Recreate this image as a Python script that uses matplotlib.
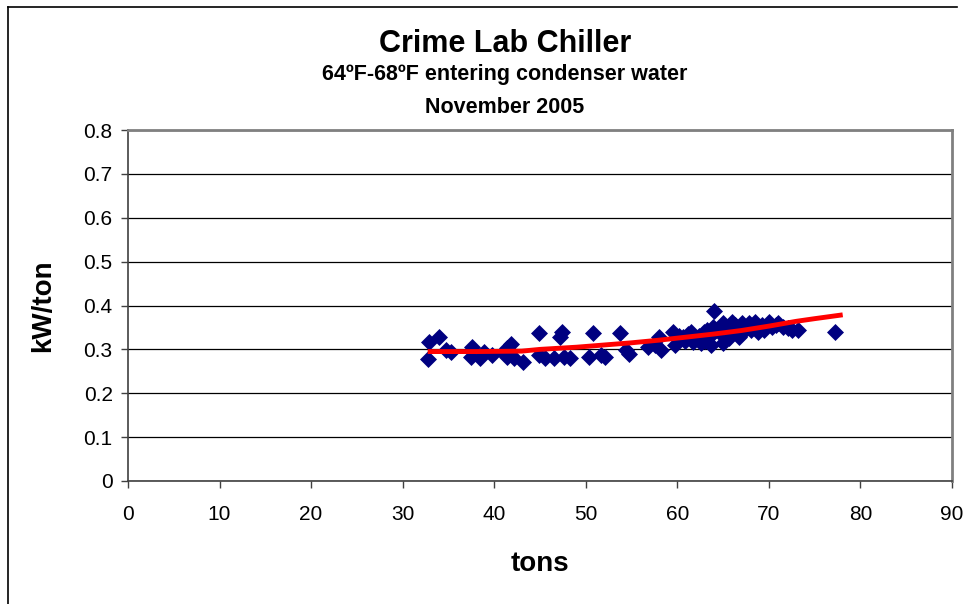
import matplotlib
matplotlib.use("Agg")
import matplotlib.pyplot as plt
from matplotlib.lines import Line2D

plt.rcParams['font.family'] = ['Liberation Sans', 'DejaVu Sans']

# measured points: tons vs kW/ton
tons = [32.8, 32.9, 34.0, 34.7, 35.3, 37.5, 37.6, 38.4, 38.9, 39.8,
        41.1, 41.4, 41.4, 41.8, 42.2, 43.1, 44.9, 44.9, 45.6, 46.5,
        47.2, 47.4, 47.6, 48.3, 50.4, 50.8, 51.7, 52.1, 53.7, 54.4,
        54.7, 56.8, 57.6, 58.0, 58.2, 59.5, 59.7, 60.2, 60.6, 60.8,
        61.2, 61.5, 61.7, 62.0, 62.4, 62.6, 62.9, 63.0, 63.2, 63.6,
        63.7, 63.9, 64.0, 64.2, 64.6, 65.0, 65.0, 65.3, 65.6, 65.8,
        66.0, 66.3, 66.5, 66.7, 67.0, 67.1, 67.3, 67.8, 68.0, 68.5,
        68.8, 69.2, 69.5, 70.0, 70.3, 70.8, 71.0, 71.5, 72.1, 72.5,
        73.2, 77.2]
kw_per_ton = [0.278, 0.317, 0.329, 0.298, 0.295, 0.283, 0.306, 0.280, 0.295, 0.287,
              0.291, 0.283, 0.302, 0.313, 0.280, 0.272, 0.338, 0.287, 0.280, 0.280,
              0.329, 0.340, 0.283, 0.280, 0.282, 0.337, 0.287, 0.282, 0.337, 0.298,
              0.289, 0.305, 0.310, 0.328, 0.298, 0.339, 0.310, 0.330, 0.328, 0.320,
              0.335, 0.339, 0.317, 0.325, 0.330, 0.314, 0.339, 0.320, 0.345, 0.330,
              0.310, 0.351, 0.387, 0.345, 0.340, 0.360, 0.314, 0.350, 0.325, 0.345,
              0.362, 0.355, 0.345, 0.328, 0.335, 0.360, 0.350, 0.360, 0.345, 0.362,
              0.340, 0.355, 0.345, 0.362, 0.350, 0.355, 0.360, 0.350, 0.348, 0.345,
              0.344, 0.340]

# trend line
trend_x = [33, 38, 43, 45, 49, 52, 55, 58, 61, 64, 67, 70, 73, 75, 77.8]
trend_y = [0.295, 0.295, 0.296, 0.300, 0.305, 0.310, 0.315, 0.321, 0.328,
           0.335, 0.343, 0.353, 0.364, 0.370, 0.378]

xticks = list(range(0, 91, 10))
yticks = [0, 0.1, 0.2, 0.3, 0.4, 0.5, 0.6, 0.7, 0.8]
ytick_labels = ['0', '0.1', '0.2', '0.3', '0.4', '0.5', '0.6', '0.7', '0.8']

W, H = 974, 604
fig = plt.figure(figsize=(W / 100, H / 100), dpi=100)
ax = fig.add_axes([128 / W, 1 - 481 / H, (952 - 128) / W, (481 - 130) / H])

ax.scatter(tons, kw_per_ton, marker='D', s=75, color='#000080', zorder=3, linewidths=0)
ax.plot(trend_x, trend_y, color='#ff0000', linewidth=3.5, zorder=4)

ax.set_xlim(0, 90)
ax.set_ylim(0, 0.8)
ax.set_xticks(xticks)
ax.set_yticks(yticks)
ax.set_yticklabels(ytick_labels)
ax.yaxis.grid(True, color='black', linewidth=0.9)
ax.set_axisbelow(True)
ax.tick_params(axis='both', labelsize=15, direction='out', length=5, width=1, color='#404040')
ax.tick_params(axis='x', pad=12)
ax.tick_params(axis='y', pad=6)
for side in ['top', 'right']:
    ax.spines[side].set_color('#808080')
    ax.spines[side].set_linewidth(2)
for side in ['left', 'bottom']:
    ax.spines[side].set_color('#404040')
    ax.spines[side].set_linewidth(1.2)

ax.set_xlabel('tons', fontsize=20, fontweight='bold', labelpad=20)
ax.set_ylabel('kW/ton', fontsize=20, fontweight='bold', labelpad=20)

fig.text(505 / W, 1 - 52 / H, 'Crime Lab Chiller', fontsize=22, fontweight='bold',
         ha='center', va='baseline')
fig.text(505 / W, 1 - 80 / H, '64ºF-68ºF entering condenser water', fontsize=15.5,
         fontweight='bold', ha='center', va='baseline')
fig.text(505 / W, 1 - 113 / H, 'November 2005', fontsize=15.5, fontweight='bold',
         ha='center', va='baseline')

# chart area border (left and top visible)
fig.add_artist(Line2D([8 / W, 8 / W], [0, 1 - 7 / H], color='black', linewidth=1.2))
fig.add_artist(Line2D([8 / W, 957 / W], [1 - 7 / H, 1 - 7 / H], color='black', linewidth=1.2))

fig.savefig('out.png', dpi=100)
